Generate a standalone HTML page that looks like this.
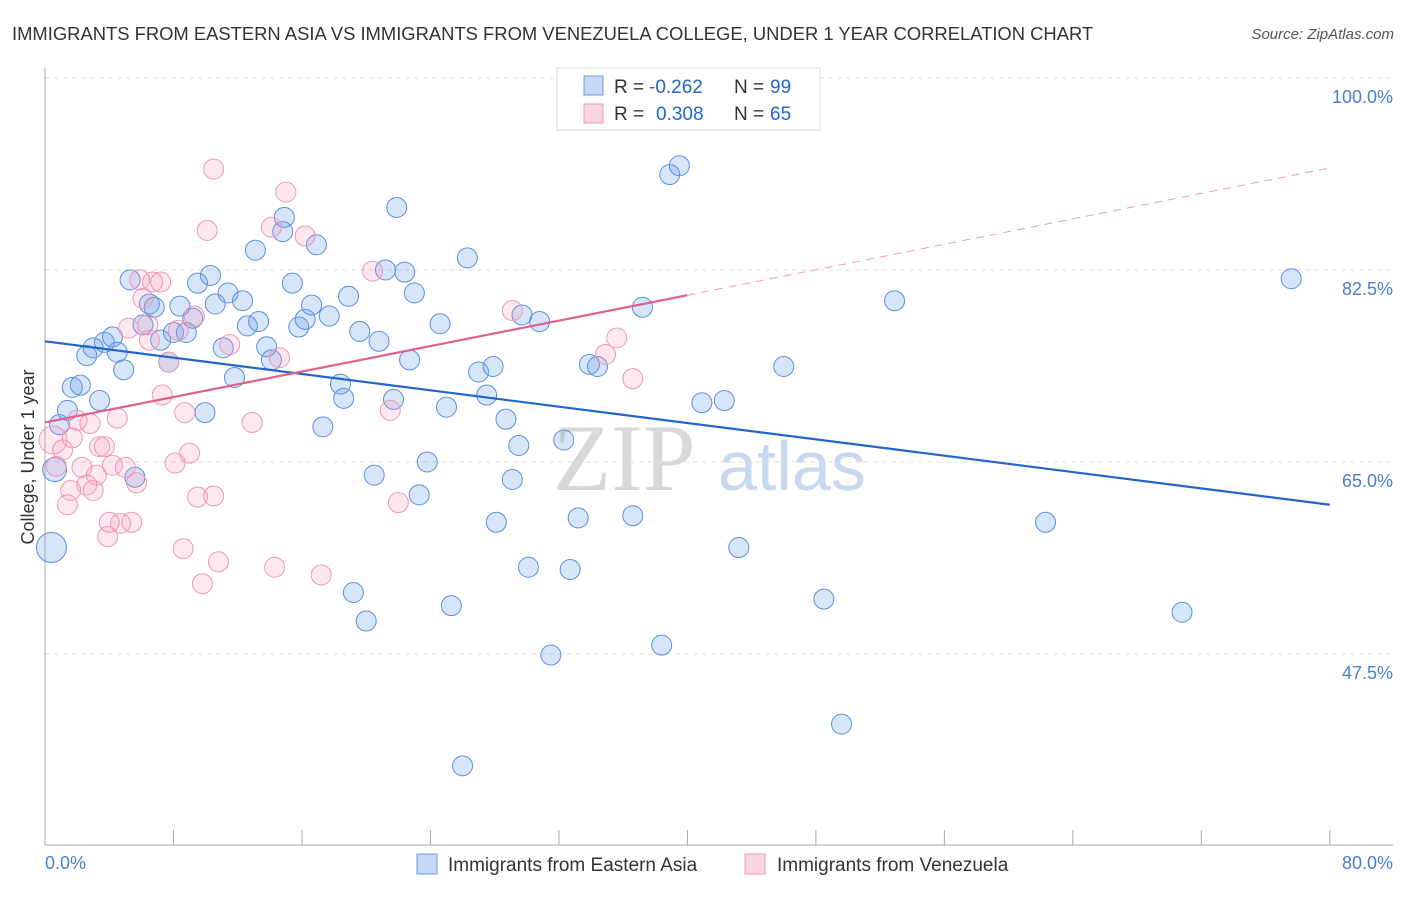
<!DOCTYPE html>
<html><head><meta charset="utf-8"><style>
body{margin:0;background:#fff;font-family:"Liberation Sans",sans-serif}
</style></head><body>
<svg width="1406" height="892" xmlns="http://www.w3.org/2000/svg">
<text x="12" y="40" font-size="18.4" fill="#333">IMMIGRANTS FROM EASTERN ASIA VS IMMIGRANTS FROM VENEZUELA COLLEGE, UNDER 1 YEAR CORRELATION CHART</text>
<text x="1394" y="39" font-size="15" fill="#555" font-style="italic" text-anchor="end">Source: ZipAtlas.com</text>
<g><text x="553" y="490" font-size="95" font-family="Liberation Serif,serif" fill="#d8d8d8">ZIP</text><text x="718" y="490" font-size="70" fill="#c8d8f0">atlas</text></g>
<g id="grid"></g>
<g id="axes"></g>
<g id="pts"></g>
<g id="lines"></g>
<text transform="translate(34,457) rotate(-90)" font-size="18" fill="#333" text-anchor="middle">College, Under 1 year</text>
<text x="45" y="869" font-size="18" fill="#4a7fd0">0.0%</text>
<text x="1393" y="869" font-size="18" fill="#4a7fd0" text-anchor="end">80.0%</text>
<g>
<rect x="557" y="68" width="263" height="62" fill="#fff" stroke="#ddd"/>
<rect x="584" y="76" width="19" height="19" fill="rgba(110,160,235,0.4)" stroke="#6a9be0"/>
<rect x="584" y="104" width="19" height="19" fill="rgba(245,160,190,0.45)" stroke="#ee9ab8"/>
<text x="614" y="93" font-size="19" fill="#333">R =</text>
<text x="649" y="93" font-size="19" fill="#2266cc">-0.262</text>
<text x="734" y="93" font-size="19" fill="#333">N =</text>
<text x="770" y="93" font-size="19" fill="#2266cc">99</text>
<text x="614" y="120" font-size="19" fill="#333">R =</text>
<text x="656" y="120" font-size="19" fill="#2266cc">0.308</text>
<text x="734" y="120" font-size="19" fill="#333">N =</text>
<text x="770" y="120" font-size="19" fill="#2266cc">65</text>
</g>
<g>
<rect x="417" y="854" width="20" height="20" fill="rgba(110,160,235,0.4)" stroke="#6a9be0"/>
<text x="448" y="871" font-size="19" fill="#333">Immigrants from Eastern Asia</text>
<rect x="745" y="854" width="20" height="20" fill="rgba(245,160,190,0.45)" stroke="#ee9ab8"/>
<text x="777" y="871" font-size="19" fill="#333">Immigrants from Venezuela</text>
</g>
</svg>
<script>
const yTicks=[100,82.5,65,47.5];
const yTickLabels=["100.0%","82.5%","65.0%","47.5%"];
const xTicks=[0,8,16,24,32,40,48,56,64,72,80];
const blueX=[0.4,0.6,0.9,1.4,1.7,2.2,2.6,3.0,3.4,3.7,4.2,4.5,4.9,5.3,5.6,6.1,6.5,6.8,7.2,7.7,8.0,8.4,8.8,9.2,9.5,9.96,10.3,10.6,11.1,11.4,11.8,12.3,12.6,13.3,13.1,13.8,14.1,14.8,14.9,15.4,15.8,16.2,16.6,16.9,17.3,17.7,18.4,18.6,18.9,19.2,19.6,20.0,20.5,20.8,21.2,21.7,21.9,22.4,22.7,23.0,23.3,23.8,24.6,25.0,25.3,26.0,26.3,27.0,27.5,27.9,28.1,28.7,29.1,29.5,29.7,30.1,30.8,31.5,32.3,32.7,33.2,33.9,34.4,36.6,37.2,37.8,38.4,38.9,39.5,40.9,42.3,43.2,46.0,48.5,49.6,52.9,62.3,70.8,77.6];
const blueY=[57.2,64.3,68.4,69.7,71.8,72.0,74.7,75.4,70.6,75.9,76.4,75.0,73.4,81.6,63.6,77.5,79.4,79.1,76.1,74.1,76.8,79.2,76.8,78.1,81.3,69.5,82.0,79.4,75.4,80.4,72.7,79.7,77.4,77.8,84.3,75.5,74.3,86.0,87.3,81.3,77.3,78.0,79.3,84.8,68.2,78.3,72.1,70.8,80.1,53.1,76.9,50.5,63.8,76.0,82.5,70.7,88.2,82.3,74.3,80.4,62.0,65.0,77.6,70.0,51.9,37.3,83.6,73.2,71.1,73.7,59.5,68.9,63.4,66.5,78.4,55.4,77.8,47.4,67.0,55.2,59.9,73.9,73.7,60.1,79.1,96.4,48.3,91.2,92.0,70.4,70.6,57.2,73.7,52.5,41.1,79.7,59.5,51.3,81.7];
const pinkX=[0.5,0.7,1.1,1.4,1.6,1.7,2.0,2.3,2.6,2.8,3.0,3.2,3.4,3.7,3.9,4.0,4.2,4.5,4.7,5.0,5.2,5.4,5.7,5.9,6.1,6.4,6.5,6.7,7.2,7.3,7.7,8.1,8.3,8.6,8.7,9.0,9.3,9.5,9.8,10.1,10.5,10.5,10.8,11.5,12.9,14.1,14.3,14.6,15.0,16.2,17.2,20.4,21.5,22.0,29.1,34.9,35.6,36.6];
const pinkY=[67.0,64.6,66.1,61.1,62.4,67.2,68.8,64.5,62.9,68.5,62.4,63.8,66.4,66.4,58.2,59.5,64.7,69.0,59.4,64.5,77.2,59.5,63.1,81.6,79.9,77.5,76.1,81.4,81.4,71.1,74.1,64.9,77.0,57.1,69.5,65.8,78.3,61.8,53.9,86.1,91.7,61.9,55.9,75.7,68.6,86.4,55.4,74.5,89.6,85.6,54.7,82.4,69.7,61.3,78.8,74.8,76.3,72.6];
const blueTrend=[76.0,61.1];
const pinkTrend=[68.6,0.29];
const NS="http://www.w3.org/2000/svg";
const X=v=>45+v*16.06, Y=v=>78+(100-v)*10.97;
function mk(tag,attrs,parent){const e=document.createElementNS(NS,tag);for(const k in attrs)e.setAttribute(k,attrs[k]);parent.appendChild(e);return e;}
const grid=document.getElementById('grid'),axes=document.getElementById('axes'),pts=document.getElementById('pts'),lines=document.getElementById('lines');
yTicks.forEach((t,i)=>{
 const l=mk('line',{x1:45,x2:1393,y1:Y(t),y2:Y(t),stroke:'#ddd','stroke-dasharray':'5,4'},grid);
 
 
 const tx=mk('text',{x:1393,y:Y(t)+25,'font-size':18,fill:'#4a7fd0','text-anchor':'end'},grid);
 tx.textContent=yTickLabels[i];
 
 
});
const ya=mk('line',{x1:45,x2:45,y1:68,y2:845,stroke:'#aaa'},axes);


const xa=mk('line',{x1:45,x2:1393,y1:845,y2:845,stroke:'#aaa'},axes);


xTicks.forEach(t=>{
 const l=mk('line',{x1:X(t),x2:X(t),y1:830,y2:845,stroke:'#aaa'},axes);
 
 
});
blueX.forEach((v,i)=>{
 const r=i===0?15:(i===1?12:10);
 const c=mk('circle',{cx:X(v),cy:Y(blueY[i]),r:r,fill:'rgba(110,160,235,0.28)',stroke:'#5b8fdd','stroke-width':1},pts);
 
 
});
pinkX.forEach((v,i)=>{
 const r=i===0?14:10;
 const c=mk('circle',{cx:X(v),cy:Y(pinkY[i]),r:r,fill:'rgba(245,150,185,0.22)',stroke:'#ec98b6','stroke-width':1},pts);
 
 
});
const bl=mk('line',{x1:X(0),y1:Y(blueTrend[0]),x2:X(80),y2:Y(blueTrend[1]),stroke:'#2266cc','stroke-width':2.2},lines);


const pf=x=>pinkTrend[0]+pinkTrend[1]*x;
const pl=mk('line',{x1:X(0),y1:Y(pf(0)),x2:X(40),y2:Y(pf(40)),stroke:'#e06090','stroke-width':2.2},lines);


const pd=mk('line',{x1:X(40),y1:Y(pf(40)),x2:X(80),y2:Y(pf(80)),stroke:'#e8a0b8','stroke-width':1,'stroke-dasharray':'8,6'},lines);


</script>
</body></html>
